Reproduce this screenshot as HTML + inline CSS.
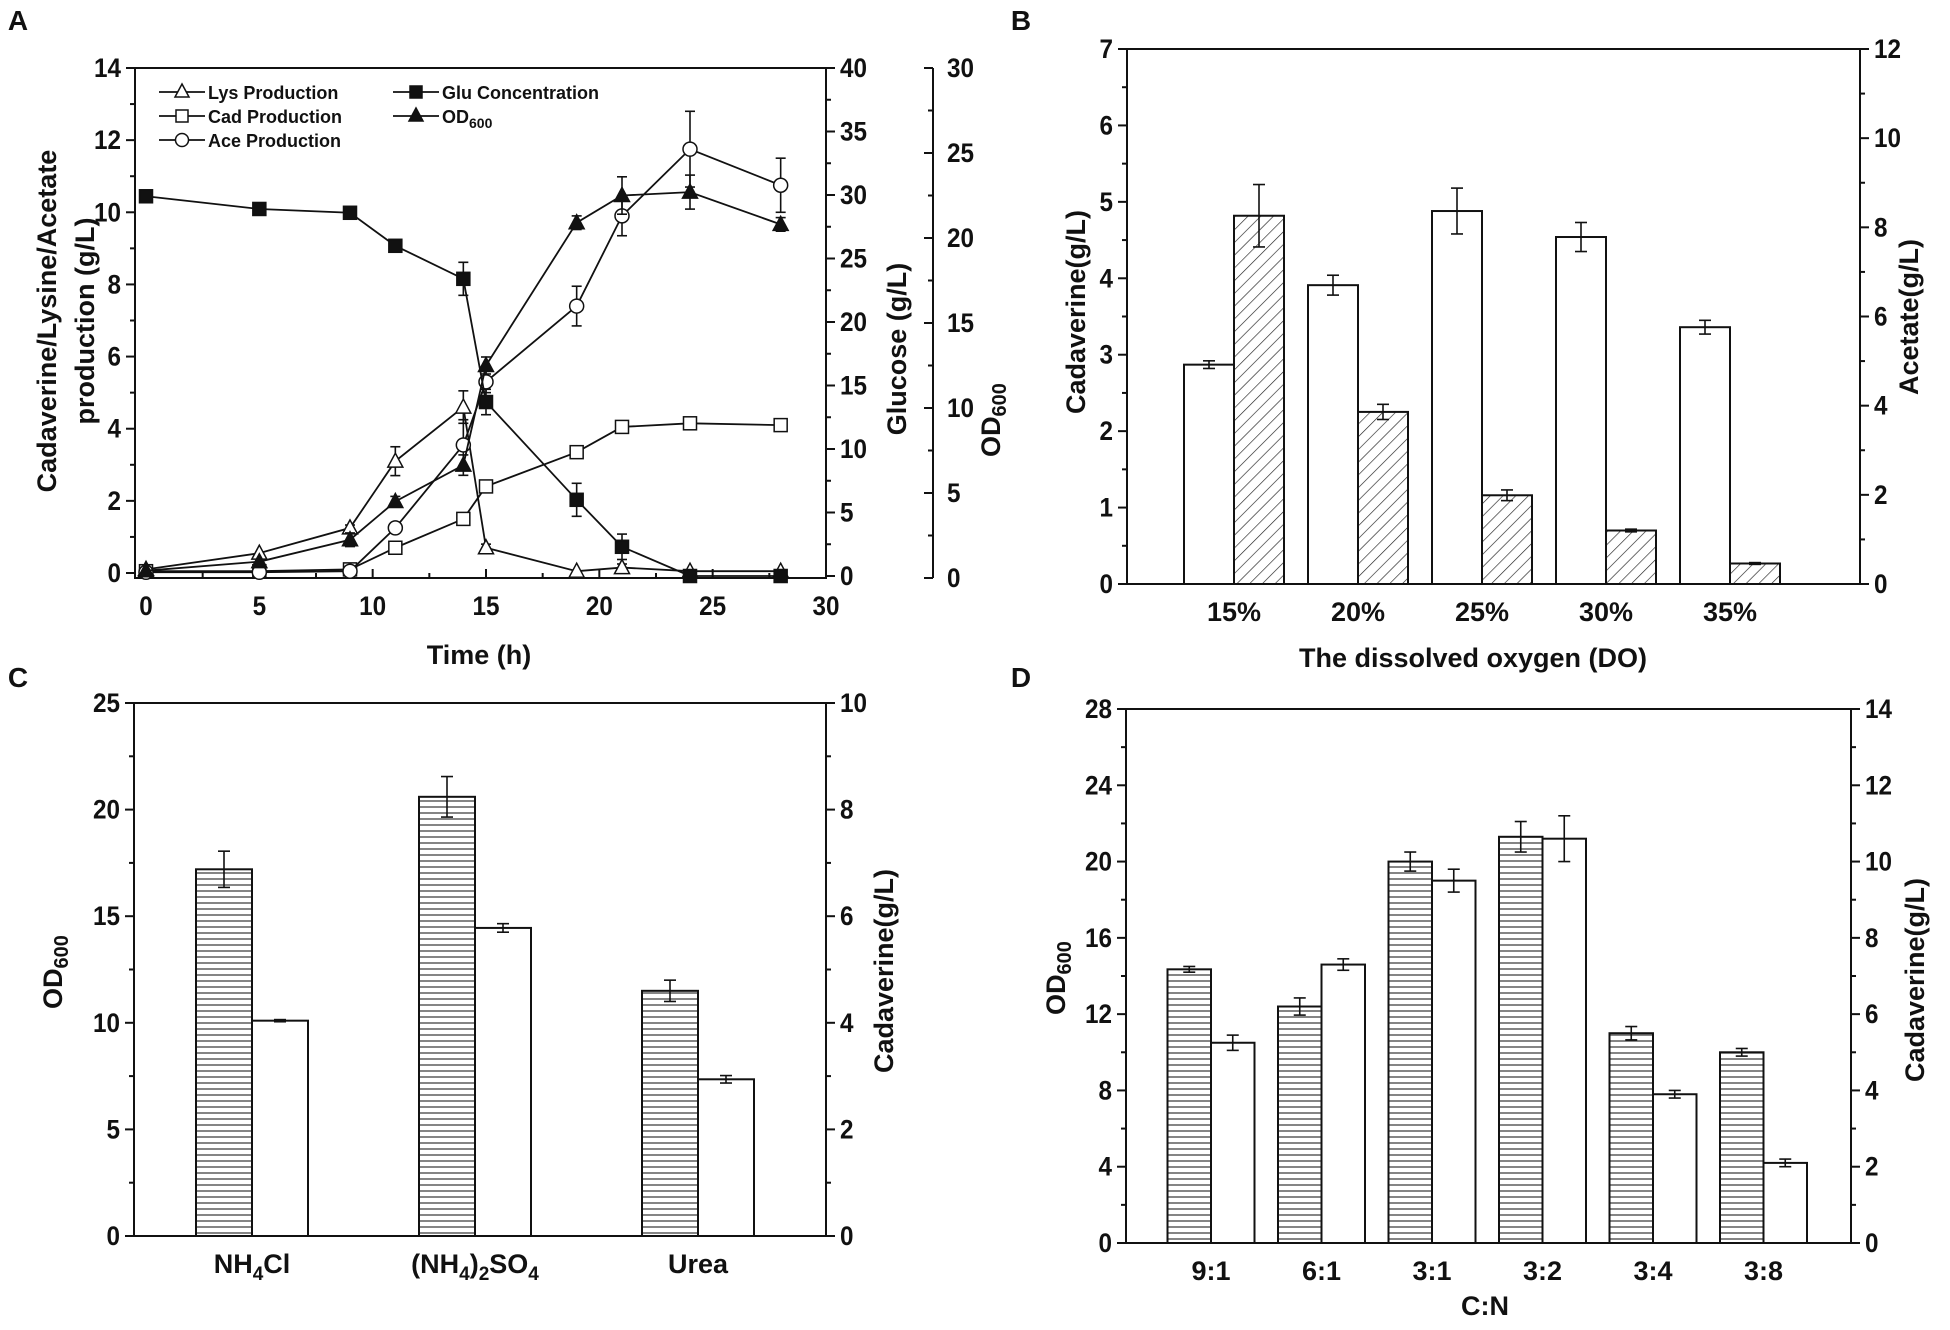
<!DOCTYPE html>
<html><head><meta charset="utf-8"><style>
html,body{margin:0;padding:0;background:#fff;}
svg{display:block;}
text{font-family:"Liberation Sans Narrow","Liberation Sans",sans-serif;font-weight:bold;fill:#111;}
.t{font-family:"Liberation Sans",sans-serif;font-weight:bold;}
</style></head><body>
<svg id="fig" width="1950" height="1330" viewBox="0 0 1950 1330">
<defs>
<pattern id="diag" patternUnits="userSpaceOnUse" width="9" height="9" patternTransform="rotate(45)"><line x1="0" y1="0" x2="0" y2="9" stroke="#222" stroke-width="1.3"/></pattern>
<pattern id="horiz" patternUnits="userSpaceOnUse" width="8" height="6"><rect width="8" height="6" fill="#fff"/><line x1="0" y1="3" x2="8" y2="3" stroke="#333" stroke-width="1.2"/></pattern>
</defs>
</svg>
<script>
// ===== Panel A data =====
const aTimes=[0,5,9,11,14,15,19,21,24,28];
const aLys=[0.1,0.55,1.25,3.1,4.6,0.7,0.05,0.15,0.05,0.05];
const aLysErr=[0,0,0.08,0.4,0.45,0.1,0,0.1,0,0];
const aCad=[0.05,0.05,0.1,0.7,1.5,2.4,3.35,4.05,4.15,4.1];
const aCadErr=[0,0,0,0.1,0.08,0.08,0.15,0.12,0.08,0.08];
const aAce=[0.02,0.02,0.05,1.25,3.55,5.3,7.4,9.9,11.75,10.75];
const aAceErr=[0,0,0,0.1,0.7,0.3,0.55,0.55,1.05,0.75];
const aGlu=[29.9,28.9,28.6,26,23.4,13.7,6,2.3,0,0];
const aGluErr=[0,0,0,0,1.3,1,1.3,1,0,0];
const aOD=[0.43,0.96,2.25,4.5,6.64,12.5,20.9,22.5,22.7,20.8];
const aODErr=[0,0,0.4,0.3,0.6,0.5,0.4,1.1,1,0.4];
const aXTicks=[0,5,10,15,20,25,30];
const aYTicks=[0,2,4,6,8,10,12,14];
const aGTicks=[0,5,10,15,20,25,30,35,40];
const aOTicks=[0,5,10,15,20,25,30];
// ===== Panel B data =====
const bCats=["15%","20%","25%","30%","35%"];
const bCad=[2.87,3.91,4.88,4.54,3.36];
const bCadErr=[0.05,0.13,0.3,0.19,0.09];
const bAce=[8.26,3.86,1.99,1.2,0.46];
const bAceErr=[0.7,0.17,0.12,0.03,0.02];
const bLTicks=[0,1,2,3,4,5,6,7];
const bRTicks=[0,2,4,6,8,10,12];
// ===== Panel C data =====
const cCats=["NH4Cl","(NH4)2SO4","Urea"];
const cOD=[17.2,20.6,11.5];
const cODErr=[0.85,0.95,0.5];
const cCad=[4.04,5.78,2.94];
const cCadErr=[0.02,0.08,0.07];
const cLTicks=[0,5,10,15,20,25];
const cRTicks=[0,2,4,6,8,10];
// ===== Panel D data =====
const dCats=["9:1","6:1","3:1","3:2","3:4","3:8"];
const dOD=[14.35,12.4,20,21.3,11,10];
const dODErr=[0.15,0.45,0.5,0.8,0.35,0.2];
const dCad=[5.25,7.3,9.5,10.6,3.9,2.1];
const dCadErr=[0.2,0.15,0.3,0.6,0.1,0.1];
const dLTicks=[0,4,8,12,16,20,24,28];
const dRTicks=[0,2,4,6,8,10,12,14];

const NS="http://www.w3.org/2000/svg";
const svg=document.getElementById('fig');
function mk(tag,attrs,parent){const e=document.createElementNS(NS,tag);for(const k in attrs)e.setAttribute(k,attrs[k]);(parent||svg).appendChild(e);return e;}
function txt(s,x,y,size,anchor,parent,cls){const e=mk('text',{x:x,y:y,'font-size':size,'text-anchor':anchor||'middle'},parent);if(cls)e.setAttribute('class',cls);e.textContent=s;return e;}
function lin(x1,y1,x2,y2,w,parent){return mk('line',{x1:x1,y1:y1,x2:x2,y2:y2,stroke:'#111','stroke-width':w||2},parent);}
function scale(d0,d1,r0,r1){return v=>r0+(v-d0)*(r1-r0)/(d1-d0);}
function errbar(g,x,y1,y2,cap){lin(x,y1,x,y2,1.6,g);lin(x-cap,y1,x+cap,y1,1.6,g);lin(x-cap,y2,x+cap,y2,1.6,g);}
// side: -1 ticks & labels left; 1 ticks & labels right; 2 ticks left, labels right
function yaxis(g,x,ticks,sc,side,minorStep,size){
  const td=side>0&&side!==2?9:-9, labRight=side>0;
  for(const t of ticks){lin(x,sc(t),x+td,sc(t),2,g);
    const s=String(t);
    const lab=txt(s,x+(labRight?14:-14),sc(t)+9,size||27,labRight?'start':'end',g);
    lab.setAttribute('textLength',s.length*13.5);
    lab.setAttribute('lengthAdjust','spacingAndGlyphs');
    
    }
  if(minorStep){const lo=ticks[0],hi=ticks[ticks.length-1];for(let v=lo+minorStep;v<hi;v+=minorStep*2)lin(x,sc(v),x+td*5/9,sc(v),2,g);}
}
function label(id,s,x,y){const e=txt(s,x,y,28,'middle',null,'t');}
function vtitle(g,html,x,y,size){const e=mk('text',{x:0,y:0,'font-size':size||26,'text-anchor':'middle',transform:'translate('+x+','+y+') rotate(-90)',class:'t'},g);e.innerHTML=html;return e;}

// ===== Panel A =====
(function(){
  const g=mk('g',{});
  
  
  const L=135,R=826,T=68,B=578;
  const x=scale(0,30,146,826), y=scale(0,14,573,68), yg=scale(0,40,576,68), yo=scale(0,30,578,68);
  mk('rect',{x:L,y:T,width:R-L,height:B-T,fill:'none',stroke:'#111','stroke-width':2},g);
  for(const t of aXTicks){lin(x(t),B,x(t),B-9,2,g);const l=txt(String(t),x(t),B+37,27,'middle',g);l.setAttribute('textLength',String(t).length*13.5);l.setAttribute('lengthAdjust','spacingAndGlyphs');}
  for(let v=2.5;v<30;v+=5)lin(x(v),B,x(v),B-5,2,g);
  yaxis(g,L,aYTicks,y,-1,1);
  yaxis(g,R,aGTicks,yg,1,2.5);
  lin(933,68,933,578,2,g);
  yaxis(g,933,aOTicks,yo,2,2.5);
  const xt=txt('Time (h)',479,664,27,'middle',g,'t');
  const yt=vtitle(g,'Cadaverine/Lysine/Acetate',56,321,27);
  const yt2=vtitle(g,'production (g/L)',94,321,27);
  const gt=vtitle(g,'Glucose (g/L)',906,349,27);
  const ot=vtitle(g,'OD<tspan font-size="20" dy="6">600</tspan>',1000,420,27);
  function series(name,vals,errs,sc,marker,fill){
    const sg=mk('g',{},g);
    
    
    const pts=aTimes.map((t,i)=>x(t)+','+sc(vals[i])).join(' ');
    mk('polyline',{points:pts,fill:'none',stroke:'#111','stroke-width':1.8},sg);
    aTimes.forEach((t,i)=>{
      if(errs[i]>0)errbar(sg,x(t),sc(vals[i]+errs[i]),sc(vals[i]-errs[i]),5);
      const cx=x(t),cy=sc(vals[i]);let m;
      if(marker==='sq')m=mk('rect',{x:cx-6.5,y:cy-6.5,width:13,height:13,fill:fill,stroke:'#111','stroke-width':1.5},sg);
      else if(marker==='tri')m=mk('polygon',{points:(cx)+','+(cy-8)+' '+(cx-7.5)+','+(cy+6)+' '+(cx+7.5)+','+(cy+6),fill:fill,stroke:'#111','stroke-width':1.5},sg);
      else m=mk('circle',{cx:cx,cy:cy,r:7,fill:fill,stroke:'#111','stroke-width':1.5},sg);
      
      
    });
  }
  series('lys',aLys,aLysErr,y,'tri','#fff');
  series('cad',aCad,aCadErr,y,'sq','#fff');
  series('ace',aAce,aAceErr,y,'circ','#fff');
  series('glu',aGlu,aGluErr,yg,'sq','#111');
  series('od600',aOD,aODErr,yo,'tri','#111');
  // legend
  const lg=mk('g',{},g);
  
  
  const ents=[['Lys Production',159,92,'tri','#fff'],['Cad Production',159,116,'sq','#fff'],['Ace Production',159,140,'circ','#fff'],['Glu Concentration',393,92,'sq','#111'],['OD',393,116,'tri','#111']];
  for(const e of ents){
    const eg=mk('g',{},lg);
    
    
    lin(e[1],e[2],e[1]+46,e[2],1.8,eg);const cx=e[1]+23,cy=e[2];
    if(e[3]==='sq')mk('rect',{x:cx-6,y:cy-6,width:12,height:12,fill:e[4],stroke:'#111','stroke-width':1.5},eg);
    else if(e[3]==='tri')mk('polygon',{points:cx+','+(cy-8)+' '+(cx-7)+','+(cy+5)+' '+(cx+7)+','+(cy+5),fill:e[4],stroke:'#111','stroke-width':1.5},eg);
    else mk('circle',{cx:cx,cy:cy,r:6.5,fill:e[4],stroke:'#111','stroke-width':1.5},eg);
    const t=mk('text',{x:e[1]+49,y:e[2]+7,'font-size':18},eg);
    if(e[0]==='OD')t.innerHTML='OD<tspan font-size="14" dy="5">600</tspan>';else t.textContent=e[0];
  }
})();

// ===== grouped bar helper =====
function barPanel(o){
  const g=mk('g',{});
  
  
  mk('rect',{x:o.L,y:o.T,width:o.R-o.L,height:o.B-o.T,fill:'none',stroke:'#111','stroke-width':2},g);
  const yl=scale(0,o.lt[o.lt.length-1],o.B,o.T), yr=scale(0,o.rt[o.rt.length-1],o.B,o.T);
  yaxis(g,o.L,o.lt,yl,-1,o.lm);
  yaxis(g,o.R,o.rt,yr,1,o.rm);
  const xc=i=>o.c0+i*o.step;
  o.cats.forEach((c,i)=>{
    const cx=xc(i);
    lin(cx,o.B,cx,o.B-8,2,g);
    const l=mk('text',{x:cx,y:o.B+37,'font-size':27,'text-anchor':'middle'},g);
    l.innerHTML=o.catHtml?o.catHtml[i]:c;
    
    
    const s1=o.first.sc==='L'?yl:yr, s2=o.second.sc==='L'?yl:yr;
    const v1=o.first.vals[i],v2=o.second.vals[i];
    const b1=mk('rect',{x:cx-o.bw,y:s1(v1),width:o.bw,height:o.B-s1(v1),fill:o.first.fill,stroke:'#111','stroke-width':2},g);
    
    
    const b2=mk('rect',{x:cx,y:s2(v2),width:o.bw,height:o.B-s2(v2),fill:o.second.fill,stroke:'#111','stroke-width':2},g);
    
    
    errbar(g,cx-o.bw/2,s1(v1+o.first.err[i]),s1(v1-o.first.err[i]),6);
    errbar(g,cx+o.bw/2,s2(v2+o.second.err[i]),s2(v2-o.second.err[i]),6);
  });
  return g;
}

// ===== Panel B =====
(function(){
  const g=barPanel({name:'panel-b-dissolved-oxygen-chart',L:1127,R:1860,T:49,B:584,lt:bLTicks,rt:bRTicks,lm:0.5,rm:1,cats:bCats,c0:1234,step:124,bw:50,
    first:{key:'cadaverine',vals:bCad,err:bCadErr,sc:'L',fill:'#fff'},second:{key:'acetate',vals:bAce,err:bAceErr,sc:'R',fill:'url(#diag)'}});
  const t1=vtitle(g,'Cadaverine(g/L)',1085,312,27);
  const t2=vtitle(g,'Acetate(g/L)',1918,317,27);
  const xt=txt('The dissolved oxygen (DO)',1473,667,27,'middle',g,'t');
})();

// ===== Panel C =====
(function(){
  const g=barPanel({name:'panel-c-nitrogen-source-chart',L:134,R:826,T:703,B:1236,lt:cLTicks,rt:cRTicks,lm:2.5,rm:1,cats:cCats,c0:252,step:223,bw:56,
    catHtml:['NH<tspan font-size="19" dy="7">4</tspan><tspan dy="-7">Cl</tspan>','(NH<tspan font-size="19" dy="7">4</tspan><tspan dy="-7">)</tspan><tspan font-size="19" dy="7">2</tspan><tspan dy="-7">SO</tspan><tspan font-size="19" dy="7">4</tspan>','Urea'],
    first:{key:'od600',vals:cOD,err:cODErr,sc:'L',fill:'url(#horiz)'},second:{key:'cadaverine',vals:cCad,err:cCadErr,sc:'R',fill:'#fff'}});
  const t1=vtitle(g,'OD<tspan font-size="20" dy="6">600</tspan>',62,972,27);
  const t2=vtitle(g,'Cadaverine(g/L)',893,971,27);
})();

// ===== Panel D =====
(function(){
  const g=barPanel({name:'panel-d-cn-ratio-chart',L:1126,R:1851,T:709,B:1243,lt:dLTicks,rt:dRTicks,lm:2,rm:1,cats:dCats,c0:1211,step:110.5,bw:43.5,
    first:{key:'od600',vals:dOD,err:dODErr,sc:'L',fill:'url(#horiz)'},second:{key:'cadaverine',vals:dCad,err:dCadErr,sc:'R',fill:'#fff'}});
  const t1=vtitle(g,'OD<tspan font-size="20" dy="6">600</tspan>',1065,978,27);
  const t2=vtitle(g,'Cadaverine(g/L)',1924,980,27);
  const xt=txt('C:N',1485,1315,27,'middle',g,'t');
})();

label('a','A',18,30);label('b','B',1021,30);label('c','C',18,687);label('d','D',1021,687);
</script>
</body></html>
